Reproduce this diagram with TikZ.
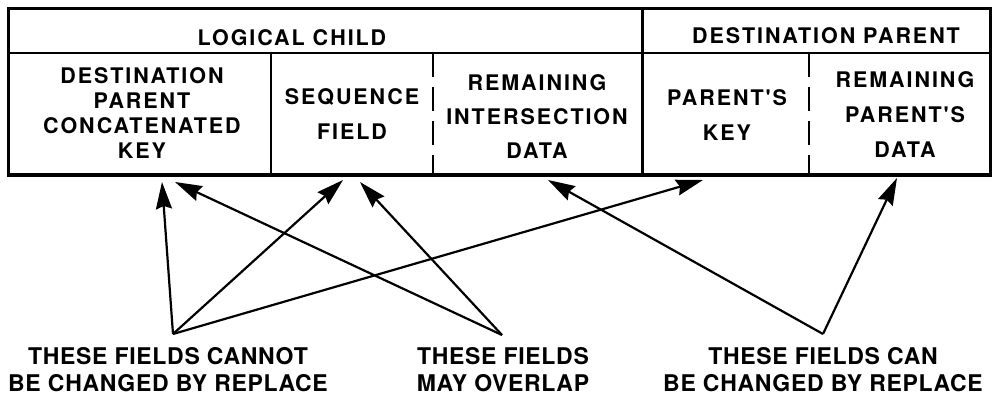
\documentclass[tikz,border=0pt]{standalone}
\usepackage{fontspec}
\setmainfont{TeX Gyre Heros}
\newfontfamily\tabfont[LetterSpace=9,BoldFont={* Bold}]{TeX Gyre Heros}
\newfontfamily\labfont[LetterSpace=3,BoldFont={* Bold}]{TeX Gyre Heros}
\usetikzlibrary{arrows.meta}
\begin{document}
\begin{tikzpicture}[x=1pt,y=-1pt,
  celltext/.style={inner sep=0pt,align=center,font=\tabfont\bfseries\fontsize{21.5}{25}\selectfont},
  labtext/.style={inner sep=0pt,align=center,font=\labfont\bfseries\fontsize{23}{27}\selectfont},
  thin rule/.style={line width=2pt},
  thick rule/.style={line width=3pt},
  dash rule/.style={line width=2pt,dash pattern=on 24pt off 10pt},
  pointer/.style={line width=2.2pt,-{Stealth[length=27pt,width=16pt,inset=3pt]}}
]
\useasboundingbox (0,0) rectangle (994,395);
% table
\draw[thick rule] (8,9) rectangle (990,175);
\draw[line width=4pt] (6.5,175) -- (991.5,175);
\draw[thin rule] (8,53) -- (990,53);
\draw[thin rule] (271,53) -- (271,175);
\draw[thick rule] (642,9) -- (642,175);
\draw[dash rule] (433,53) -- (433,175);
\draw[dash rule] (809,53) -- (809,175);
% cell texts
\node[celltext] (lc) at (292,37.5) {LOGICAL CHILD};
\node[celltext] (dp) at (826,35.5) {DESTINATION PARENT};
\node[celltext,font=\tabfont\bfseries\fontsize{21.5}{25}\selectfont] (dpck) at (142,113) {DESTINATION\\PARENT\\CONCATENATED\\KEY};
\node[celltext,font=\tabfont\bfseries\fontsize{21.5}{35}\selectfont] (seq) at (352,114) {SEQUENCE\\FIELD};
\node[celltext,font=\tabfont\bfseries\fontsize{21.5}{34}\selectfont] (rid) at (537,116.5) {REMAINING\\INTERSECTION\\DATA};
\node[celltext,font=\tabfont\bfseries\fontsize{21.5}{35}\selectfont] (pk) at (727,115) {PARENT'S\\KEY};
\node[celltext,font=\tabfont\bfseries\fontsize{21.5}{35}\selectfont] (rpd) at (905,114.5) {REMAINING\\PARENT'S\\DATA};
% bottom labels
\node[labtext] (cannot) at (168,370) {THESE FIELDS CANNOT\\BE CHANGED BY REPLACE};
\node[labtext] (overlap) at (503,370) {THESE FIELDS\\MAY OVERLAP};
\node[labtext] (can) at (823,370) {THESE FIELDS CAN\\BE CHANGED BY REPLACE};
% apex and target points
\coordinate (a1) at (173,334);
\coordinate (a2) at (502,335);
\coordinate (a3) at (823,334);
\coordinate (t1) at (162,182);
\coordinate (t2) at (343,180);
\coordinate (t3) at (703,180);
\coordinate (t4) at (175,182);
\coordinate (t5) at (360,182);
\coordinate (t6) at (548,180);
\coordinate (t7) at (897,178);
% arrows
\draw[pointer] (a1) -- (t1);
\draw[pointer] (a1) -- (t2);
\draw[pointer] (a1) -- (t3);
\draw[pointer] (a2) -- (t4);
\draw[pointer] (a2) -- (t5);
\draw[pointer] (a3) -- (t6);
\draw[pointer] (a3) -- (t7);
\end{tikzpicture}
\end{document}
